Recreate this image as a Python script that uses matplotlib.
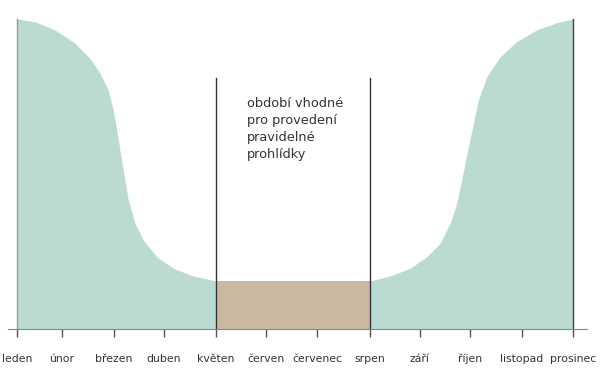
# Chart: period suitable for regular inspection (months of the year).
import matplotlib
matplotlib.use("Agg")
import matplotlib.pyplot as plt

# Month labels along the x axis and where their ticks sit.
months = ['leden', 'únor', 'březen', 'duben', 'květen', 'červen',
          'červenec', 'srpen', 'září', 'říjen', 'listopad', 'prosinec']
month_pos = [0, 0.89, 1.92, 2.91, 3.94, 4.93, 5.94, 6.98, 7.97, 8.96, 9.99, 11.0]

# Left (falling) part of the green curve: position and level (0-100).
left_x = [0.0, 0.356, 0.752, 1.147, 1.444, 1.642, 1.806, 1.905, 1.973, 2.038,
          2.103, 2.202, 2.335, 2.499, 2.764, 3.092, 3.488, 3.94]
left_y = [100, 99.1, 96.5, 92.2, 87.3, 82.5, 77.1, 70.6, 64.2, 57.7,
          51.3, 41.6, 34.1, 28.7, 23.3, 19.6, 17.1, 15.5]

# Right (rising) part of the green curve.
right_x = [6.98, 7.380, 7.775, 8.106, 8.369, 8.567, 8.699, 8.798, 8.897,
           9.028, 9.127, 9.293, 9.556, 9.886, 10.282, 10.678, 11.0]
right_y = [15.5, 17.1, 19.6, 23.3, 27.6, 34.1, 40.5, 48.1, 56.1,
           66.4, 73.9, 81.4, 87.8, 92.7, 96.5, 98.8, 100]

# Inspection window (brown box) and its level.
window_start = 3.94
window_end = 6.98
window_level = 15.5
window_line_top = 81.0

note = 'období vhodné\npro provedení\npravidelné\nprohlídky'

green = '#bbdbd2'
brown = '#c9b9a3'

fig = plt.figure(figsize=(6.09, 3.68), dpi=100)
ax = fig.add_axes([0, 0, 1, 1])

ax.fill_between(left_x, 0, left_y, color=green, lw=0)
ax.fill_between(right_x, 0, right_y, color=green, lw=0)
ax.fill_between([window_start, window_end], 0, window_level, color=brown, lw=0)

# Vertical lines
ax.plot([0, 0], [0, 100], color='#999999', lw=1)
ax.plot([11, 11], [0, 100], color='#444444', lw=1)
ax.plot([window_start, window_start], [0, window_line_top], color='#333333', lw=1)
ax.plot([window_end, window_end], [0, window_line_top], color='#333333', lw=1)

ax.text(4.55, 75.0, note, fontsize=9.3, color='#333333', va='top', ha='left',
        linespacing=1.4)

ax.set_xlim(-0.336, 11.712)
ax.set_ylim(-12.58, 106.13)

for s in ['top', 'right', 'left']:
    ax.spines[s].set_visible(False)
ax.spines['bottom'].set_position(('data', 0))
ax.spines['bottom'].set_bounds(-0.18, 11.28)
ax.spines['bottom'].set_color('#888888')
ax.set_yticks([])
ax.set_xticks(month_pos)
ax.set_xticklabels(months, fontsize=7.8, color='#333333', va='baseline')
ax.tick_params(axis='x', direction='out', length=6, width=1, color='#555555', pad=18)

fig.savefig('out.png', dpi=100)
